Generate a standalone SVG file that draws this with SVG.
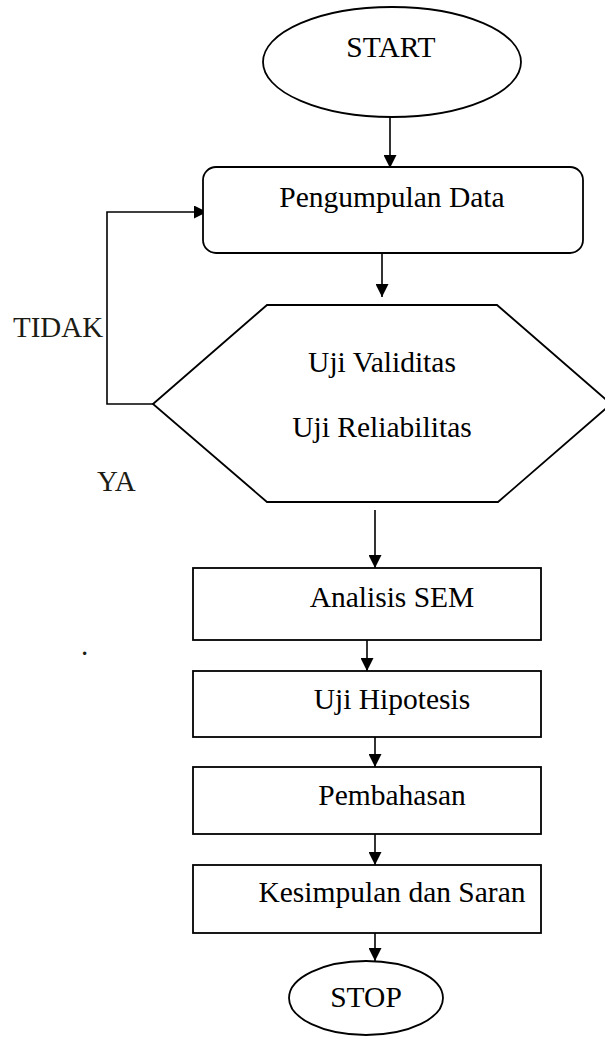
<svg xmlns="http://www.w3.org/2000/svg" width="605" height="1039" viewBox="0 0 605 1039">
  <style>
    .shape { fill: #ffffff; stroke: #000000; stroke-width: 1.8; }
    .line { fill: none; stroke: #000000; stroke-width: 1.6; }
    .lbl { font-family: "Liberation Serif", "Times New Roman", serif; font-size: 29.5px; fill: #000000; text-anchor: middle; }
    .side { font-family: "Liberation Serif", "Times New Roman", serif; font-size: 29px; fill: #1c1c14; }
  </style>
  <defs>
    <marker id="arrow" markerUnits="userSpaceOnUse" markerWidth="13" markerHeight="13" refX="13" refY="6.5" orient="auto">
      <path d="M0,0 L13,6.5 L0,13 z" fill="#000000"/>
    </marker>
  </defs>
  <rect width="605" height="1039" fill="#ffffff"/>

  <g id="connectors">
    <line class="line" x1="390" y1="117" x2="390" y2="168" marker-end="url(#arrow)"/>
    <line class="line" x1="382" y1="253" x2="382" y2="297" marker-end="url(#arrow)"/>
    <polyline class="line" points="153,404 107,404 107,212 207,212" marker-end="url(#arrow)"/>
    <line class="line" x1="375" y1="510" x2="375" y2="568" marker-end="url(#arrow)"/>
    <line class="line" x1="367" y1="640" x2="367" y2="671" marker-end="url(#arrow)"/>
    <line class="line" x1="375" y1="737" x2="375" y2="767" marker-end="url(#arrow)"/>
    <line class="line" x1="375" y1="834" x2="375" y2="865" marker-end="url(#arrow)"/>
    <line class="line" x1="375" y1="933" x2="375" y2="961" marker-end="url(#arrow)"/>
  </g>

  <g id="start">
    <ellipse class="shape" cx="392" cy="62" rx="129" ry="55"/>
    <text class="lbl" x="391" y="57">START</text>
  </g>

  <g id="pengumpulan">
    <rect class="shape" x="203" y="167" width="380" height="86" rx="13" ry="13"/>
    <text class="lbl" x="392" y="207">Pengumpulan Data</text>
  </g>

  <g id="uji">
    <polygon class="shape" points="153,404 267,305 497,305 611,404 498,502 267,502"/>
    <text class="lbl" x="382" y="372">Uji Validitas</text>
    <text class="lbl" x="382" y="437">Uji Reliabilitas</text>
  </g>

  <g id="labels">
    <text class="side" x="13" y="337">TIDAK</text>
    <text class="side" x="97" y="491">YA</text>
    <text class="side" x="81" y="655">.</text>
  </g>

  <g id="analisis">
    <rect class="shape" x="193" y="568" width="348" height="72"/>
    <text class="lbl" x="392" y="607">Analisis SEM</text>
  </g>

  <g id="hipotesis">
    <rect class="shape" x="193" y="671" width="348" height="66"/>
    <text class="lbl" x="392" y="709">Uji Hipotesis</text>
  </g>

  <g id="pembahasan">
    <rect class="shape" x="193" y="767" width="348" height="67"/>
    <text class="lbl" x="392" y="805">Pembahasan</text>
  </g>

  <g id="kesimpulan">
    <rect class="shape" x="193" y="865" width="348" height="68"/>
    <text class="lbl" x="392" y="902">Kesimpulan dan Saran</text>
  </g>

  <g id="stop">
    <ellipse class="shape" cx="366" cy="998" rx="77" ry="37"/>
    <text class="lbl" x="366" y="1007">STOP</text>
  </g>
</svg>
